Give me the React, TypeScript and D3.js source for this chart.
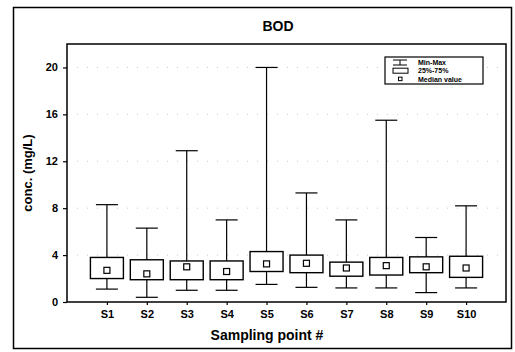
import React, { useEffect, useRef } from "react";
import * as d3 from "d3";

// values
const sites = ["S1", "S2", "S3", "S4", "S5", "S6", "S7", "S8", "S9", "S10"];
const minVals = [1.1, 0.4, 1.0, 1.0, 1.5, 1.25, 1.2, 1.2, 0.8, 1.2];
const q1Vals = [2.0, 1.9, 1.9, 1.9, 2.6, 2.5, 2.2, 2.3, 2.5, 2.1];
const medianVals = [2.7, 2.4, 3.0, 2.6, 3.25, 3.3, 2.9, 3.1, 3.0, 2.9];
const q3Vals = [3.8, 3.6, 3.5, 3.5, 4.3, 4.0, 3.4, 3.8, 3.85, 3.9];
const maxVals = [8.3, 6.3, 12.9, 7.0, 20.0, 9.3, 7.0, 15.5, 5.5, 8.2];
const yTicks = [0, 4, 8, 12, 16, 20];
const legendRows = ["Min-Max", "25%-75%", "Median value"];

const W = 515;
const H = 352;
const margin = { top: 44, right: 9, bottom: 50, left: 67 };
const font = "'Liberation Sans', Arial, sans-serif";

export default function App() {
  const svgRef = useRef<SVGSVGElement>(null);

  useEffect(() => {
    const svg = d3.select(svgRef.current);
    svg.selectAll("*").remove();

    const x = d3
      .scaleLinear()
      .domain([0, sites.length + 1])
      .range([margin.left, W - margin.right]);
    const y = d3
      .scaleLinear()
      .domain([0, 22])
      .range([H - margin.bottom, margin.top]);

    // outer frame
    svg
      .append("rect")
      .attr("x", 13.5)
      .attr("y", 7.5)
      .attr("width", 498)
      .attr("height", 341)
      .attr("fill", "white")
      .attr("stroke", "black")
      .attr("stroke-width", 1.5);

    // title
    svg
      .append("text")
      .text("BOD")
      .attr("x", 278)
      .attr("y", 31)
      .attr("text-anchor", "middle")
      .style("font-family", font)
      .style("font-weight", "bold")
      .style("font-size", "14px");

    // faint dotted grid
    svg
      .append("g")
      .selectAll("line")
      .data(yTicks.filter((t) => t > 0))
      .join("line")
      .attr("x1", margin.left)
      .attr("x2", W - margin.right)
      .attr("y1", (d) => y(d))
      .attr("y2", (d) => y(d))
      .attr("stroke", "#c8c8c8")
      .attr("stroke-width", 1)
      .attr("stroke-dasharray", "1,9");

    // y axis
    const yAxis = d3.axisLeft(y).tickValues(yTicks).tickSize(4).tickPadding(5);
    const gy = svg
      .append("g")
      .attr("transform", `translate(${margin.left},0)`)
      .call(yAxis);
    gy.select(".domain").remove();
    gy.selectAll("line").attr("stroke", "black").attr("stroke-width", 1.2);
    gy.selectAll("text")
      .style("font-family", font)
      .style("font-weight", "bold")
      .style("font-size", "11px")
      .attr("fill", "black");

    // x axis
    const xAxis = d3
      .axisBottom(x)
      .tickValues(sites.map((_, i) => i + 1))
      .tickFormat((d) => sites[(d as number) - 1])
      .tickSize(3)
      .tickPadding(5);
    const gx = svg
      .append("g")
      .attr("transform", `translate(0,${H - margin.bottom})`)
      .call(xAxis);
    gx.select(".domain").remove();
    gx.selectAll("line").attr("stroke", "black").attr("stroke-width", 1.2);
    gx.selectAll("text")
      .style("font-family", font)
      .style("font-weight", "bold")
      .style("font-size", "11px")
      .attr("fill", "black");

    // axis titles
    svg
      .append("text")
      .text("Sampling point #")
      .attr("x", 267)
      .attr("y", 340)
      .attr("text-anchor", "middle")
      .style("font-family", font)
      .style("font-weight", "bold")
      .style("font-size", "14px");
    svg
      .append("text")
      .text("conc. (mg/L)")
      .attr("transform", "translate(32,173) rotate(-90)")
      .attr("text-anchor", "middle")
      .style("font-family", font)
      .style("font-weight", "bold")
      .style("font-size", "13px");

    // box plots
    const data = sites.map((s, i) => ({
      s,
      i: i + 1,
      min: minVals[i],
      q1: q1Vals[i],
      med: medianVals[i],
      q3: q3Vals[i],
      max: maxVals[i],
    }));
    const boxW = 33;
    const capW = 22;
    const g = svg.append("g").selectAll("g").data(data).join("g");

    g.append("line")
      .attr("x1", (d) => x(d.i))
      .attr("x2", (d) => x(d.i))
      .attr("y1", (d) => y(d.min))
      .attr("y2", (d) => y(d.max))
      .attr("stroke", "black")
      .attr("stroke-width", 1.2);
    g.append("line")
      .attr("x1", (d) => x(d.i) - capW / 2)
      .attr("x2", (d) => x(d.i) + capW / 2)
      .attr("y1", (d) => y(d.max))
      .attr("y2", (d) => y(d.max))
      .attr("stroke", "black")
      .attr("stroke-width", 1.2);
    g.append("line")
      .attr("x1", (d) => x(d.i) - capW / 2)
      .attr("x2", (d) => x(d.i) + capW / 2)
      .attr("y1", (d) => y(d.min))
      .attr("y2", (d) => y(d.min))
      .attr("stroke", "black")
      .attr("stroke-width", 1.2);
    g.append("rect")
      .attr("x", (d) => x(d.i) - boxW / 2)
      .attr("y", (d) => y(d.q3))
      .attr("width", boxW)
      .attr("height", (d) => y(d.q1) - y(d.q3))
      .attr("fill", "white")
      .attr("stroke", "black")
      .attr("stroke-width", 1.4);
    g.append("rect")
      .attr("x", (d) => x(d.i) - 3)
      .attr("y", (d) => y(d.med) - 3)
      .attr("width", 6)
      .attr("height", 6)
      .attr("fill", "white")
      .attr("stroke", "black")
      .attr("stroke-width", 1.2);

    // plot frame
    svg
      .append("rect")
      .attr("x", margin.left)
      .attr("y", margin.top)
      .attr("width", W - margin.left - margin.right)
      .attr("height", H - margin.top - margin.bottom)
      .attr("fill", "none")
      .attr("stroke", "black")
      .attr("stroke-width", 1.5);

    // legend
    const rowH = 8.2;
    const lg = svg.append("g").attr("transform", "translate(385,57)");
    lg.append("rect")
      .attr("width", 98)
      .attr("height", 27)
      .attr("fill", "white")
      .attr("stroke", "black")
      .attr("stroke-width", 1.2);
    lg.selectAll("text.lbl")
      .data(legendRows)
      .join("text")
      .attr("class", "lbl")
      .text((d) => d)
      .attr("x", 33)
      .attr("y", (_, i) => 5.5 + i * rowH + 2.6)
      .attr("fill", "black")
      .style("font-family", font)
      .style("font-weight", "bold")
      .style("font-size", "7px");
    // min-max symbol
    const c0 = 5.5;
    lg.append("line").attr("x1", 8).attr("x2", 22).attr("y1", c0 - 2.5).attr("y2", c0 - 2.5).attr("stroke", "black");
    lg.append("line").attr("x1", 8).attr("x2", 22).attr("y1", c0 + 2.5).attr("y2", c0 + 2.5).attr("stroke", "black");
    lg.append("line").attr("x1", 15).attr("x2", 15).attr("y1", c0 - 2.5).attr("y2", c0 + 2.5).attr("stroke", "black");
    // box symbol
    lg.append("rect")
      .attr("x", 8)
      .attr("y", c0 + rowH - 2.5)
      .attr("width", 15)
      .attr("height", 5)
      .attr("fill", "white")
      .attr("stroke", "black");
    // median symbol
    lg.append("rect")
      .attr("x", 13.5)
      .attr("y", c0 + 2 * rowH - 1.75)
      .attr("width", 3.5)
      .attr("height", 3.5)
      .attr("fill", "white")
      .attr("stroke", "black");
  }, []);

  return (
    <svg
      ref={svgRef}
      width={W}
      height={H}
      style={{ position: "absolute", left: 0, top: 0, background: "white" }}
    />
  );
}
